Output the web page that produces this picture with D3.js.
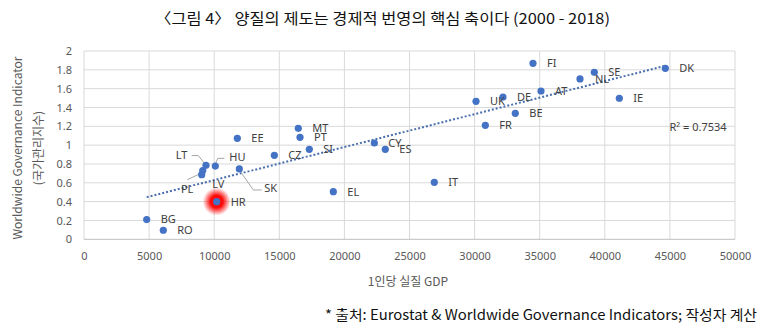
<!DOCTYPE html>
<html><head><meta charset="utf-8">
<script src="https://cdn.jsdelivr.net/npm/d3@7"></script>
<style>body{margin:0;background:#fff}svg{display:block}</style>
</head><body>
<svg id="c" width="769" height="334"></svg>
<script>
const countries = ["BG","RO","HR","PL","LV","LT","HU","SK","EE","CZ","MT","PT","SI","EL","CY","ES","IT","UK","DE","FR","BE","FI","AT","NL","SE","DK","IE"];
const gdp = [4815,6090,10190,9040,9120,9370,10085,11930,11775,14620,16460,16590,17305,19150,22300,23140,26905,30110,32180,30825,33125,34485,35100,38095,39195,44650,41115];
const wgi = [0.21,0.096,0.40,0.686,0.73,0.786,0.778,0.747,1.073,0.892,1.179,1.083,0.956,0.506,1.023,0.956,0.605,1.466,1.511,1.211,1.338,1.869,1.575,1.703,1.774,1.816,1.498];
const xTicks = [0,5000,10000,15000,20000,25000,30000,35000,40000,45000,50000];
const yTicks = [0,0.2,0.4,0.6,0.8,1,1.2,1.4,1.6,1.8,2];
const yTickLabels = ["0","0.2","0.4","0.6","0.8","1","1.2","1.4","1.6","1.8","2"];
const highlight = "HR";
const r2Text = "R² = 0.7534";

// label placement (styling)
const labelPos = {
  HU:{dx:14,dy:-7.7}, LT:{dx:-18.7,dy:-9,anchor:"end"}, SK:{dx:25,dy:20},
  PL:{dx:-8.4,dy:15.3,anchor:"end"}, LV:{dx:9.6,dy:14.3}, NL:{dx:15,dy:1}
};
const leaders = {
  HU:[[0,-2],[2.5,-7.7],[9,-7.7]],
  LT:[[-1,-1.3],[-7.7,-9.7],[-14.3,-9.7]],
  SK:[[0,1],[14,21],[22.4,21]],
  PL:[[-0.5,-1.5],[-14.4,5]]
};

const svg = d3.select("#c");
const x = d3.scaleLinear().domain([0,50000]).range([84,735]);
const y = d3.scaleLinear().domain([0,2]).range([239.3,51]);
const data = countries.map((c,i)=>({c, gx:gdp[i], gy:wgi[i]}));

// grid
svg.append("g").selectAll("line").data(xTicks).join("line")
  .attr("x1",d=>x(d)).attr("x2",d=>x(d)).attr("y1",y(2)).attr("y2",y(0))
  .attr("stroke","#d9d9d9").attr("stroke-width",1);
svg.append("g").selectAll("line").data(yTicks).join("line")
  .attr("x1",x(0)).attr("x2",x(50000)).attr("y1",d=>y(d)).attr("y2",d=>y(d))
  .attr("stroke",d=>d===0?"#bfbfbf":"#d9d9d9").attr("stroke-width",1);

// axes
const fontLat = "'Noto Sans', 'Noto Sans CJK KR', sans-serif";
const xAxis = svg.append("g").attr("transform",`translate(0,${y(0)+10})`)
  .call(d3.axisBottom(x).tickValues(xTicks).tickFormat(d3.format("d")).tickSize(0));
xAxis.select(".domain").remove();
xAxis.selectAll("text").attr("fill","#595959").attr("font-size","11px").attr("font-family",fontLat);

const yAxis = svg.append("g").attr("transform",`translate(${75},0)`)
  .call(d3.axisLeft(y).tickValues(yTicks).tickFormat((d,i)=>yTickLabels[i]).tickSize(0));
yAxis.select(".domain").remove();
yAxis.selectAll("text").attr("fill","#595959").attr("font-size","11px").attr("font-family",fontLat);

// trendline (least squares)
const mx = d3.mean(data,d=>d.gx), my = d3.mean(data,d=>d.gy);
const slope = d3.sum(data,d=>(d.gx-mx)*(d.gy-my))/d3.sum(data,d=>(d.gx-mx)**2);
const icpt = my - slope*mx;
const [xmin,xmax] = d3.extent(data,d=>d.gx);
svg.append("line")
  .attr("x1",x(xmin)).attr("y1",y(icpt+slope*xmin))
  .attr("x2",x(xmax)).attr("y2",y(icpt+slope*xmax))
  .attr("stroke","#4a6fae").attr("stroke-width",2).attr("stroke-dasharray","2,2");

// glow
const defs = svg.append("defs");
const rg = defs.append("radialGradient").attr("id","glow");
rg.append("stop").attr("offset","0%").attr("stop-color","#ff0000").attr("stop-opacity",1);
rg.append("stop").attr("offset","45%").attr("stop-color","#ff0000").attr("stop-opacity",0.95);
rg.append("stop").attr("offset","75%").attr("stop-color","#ff1010").attr("stop-opacity",0.45);
rg.append("stop").attr("offset","100%").attr("stop-color","#ff2020").attr("stop-opacity",0);
const hd = data.find(d=>d.c===highlight);
svg.append("circle").attr("cx",x(hd.gx)).attr("cy",y(hd.gy)).attr("r",14).attr("fill","url(#glow)");

// leaders
const line = d3.line();
svg.append("g").selectAll("path").data(data.filter(d=>leaders[d.c])).join("path")
  .attr("d",d=>line(leaders[d.c].map(p=>[x(d.gx)+p[0], y(d.gy)+p[1]])))
  .attr("fill","none").attr("stroke","#a6a6a6").attr("stroke-width",1);

// dots
svg.append("g").selectAll("circle").data(data).join("circle")
  .attr("cx",d=>x(d.gx)).attr("cy",d=>y(d.gy)).attr("r",3.6).attr("fill","#4472c4");

// labels
svg.append("g").selectAll("text").data(data).join("text")
  .attr("x",d=>x(d.gx)+(labelPos[d.c]?labelPos[d.c].dx:14))
  .attr("y",d=>y(d.gy)+(labelPos[d.c]?labelPos[d.c].dy:1))
  .attr("text-anchor",d=>labelPos[d.c]&&labelPos[d.c].anchor?labelPos[d.c].anchor:"start")
  .attr("dominant-baseline","middle")
  .attr("font-size","11px").attr("font-family",fontLat).attr("fill","#404040")
  .text(d=>d.c);

// R2
svg.append("text").attr("x",698).attr("y",128).attr("text-anchor","middle").attr("dominant-baseline","middle")
  .attr("font-size","11px").attr("font-family",fontLat).attr("fill","#404040").text(r2Text);

// titles
const fontKr = "'Noto Sans CJK KR', 'Noto Sans', sans-serif";
svg.append("text").attr("x",155).attr("y",20).attr("dominant-baseline","middle")
  .attr("font-size","15px").attr("font-family",fontKr).attr("fill","#111")
  .attr("textLength",455).attr("lengthAdjust","spacingAndGlyphs")
  .text("〈그림 4〉 양질의 제도는 경제적 번영의 핵심 축이다 (2000 - 2018)");
svg.append("text").attr("x",408).attr("y",283).attr("text-anchor","middle").attr("dominant-baseline","middle")
  .attr("font-size","12px").attr("font-family",fontKr).attr("fill","#595959")
  .text("1인당 실질 GDP");
const yt = svg.append("text").attr("transform","translate(0,148) rotate(-90)")
  .attr("text-anchor","middle").attr("font-size","12px").attr("font-family",fontKr).attr("fill","#595959");
yt.append("tspan").attr("x",0).attr("y",19).attr("dominant-baseline","middle").text("Worldwide Governance Indicator");
yt.append("tspan").attr("x",0).attr("y",40).attr("dominant-baseline","middle").text("(국가관리지수)");
svg.append("text").attr("x",325).attr("y",316).attr("dominant-baseline","middle")
  .attr("font-size","14px").attr("font-family",fontKr).attr("fill","#111")
  .attr("textLength",432).attr("lengthAdjust","spacingAndGlyphs")
  .text("* 출처: Eurostat & Worldwide Governance Indicators; 작성자 계산");
</script>
</body></html>
